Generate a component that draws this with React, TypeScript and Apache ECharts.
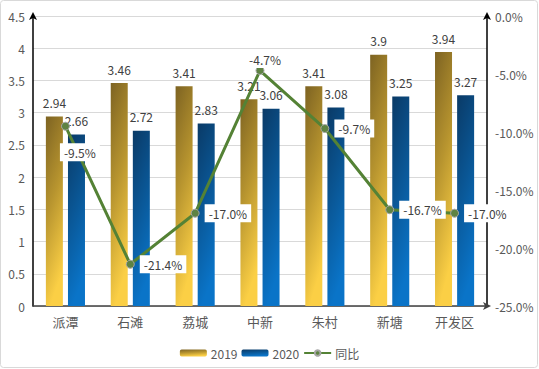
import React, { useEffect, useRef } from "react";
import * as echarts from "echarts";

const categories = ["派潭", "石滩", "荔城", "中新", "朱村", "新塘", "开发区"];
const values2019 = [2.94, 3.46, 3.41, 3.21, 3.41, 3.9, 3.94];
const values2020 = [2.66, 2.72, 2.83, 3.06, 3.08, 3.25, 3.27];
const yoyPercent = [-9.5, -21.4, -17.0, -4.7, -9.7, -16.7, -17.0];
const seriesNames = ["2019", "2020", "同比"];

const FONT = '"Noto Sans CJK SC", "Noto Sans", sans-serif';

export default function App() {
  const ref = useRef<HTMLDivElement>(null);
  useEffect(() => {
    if (!ref.current) return;
    const chart = echarts.init(ref.current, undefined, { renderer: "svg" });
    const gold = new echarts.graphic.LinearGradient(0, 0, 0.25, 1, [
      { offset: 0, color: "#7d6322" },
      { offset: 0.5, color: "#b8952f" },
      { offset: 1, color: "#fbcf45" },
    ]);
    const blue = new echarts.graphic.LinearGradient(0, 0, 0.25, 1, [
      { offset: 0, color: "#0a3a66" },
      { offset: 0.5, color: "#0a5796" },
      { offset: 1, color: "#0a74c8" },
    ]);
    const lineLabel = {
      show: true,
      position: "right",
      distance: 5,
      formatter: (p: any) => (p.value as number).toFixed(1) + "%",
      backgroundColor: "#ffffff",
      padding: [3, 4, 3, 4],
      color: "#404040",
      fontSize: 12,
      fontFamily: FONT,
    };
    const lineData = yoyPercent.map((v, i) => {
      if (i === 0) return { value: v, label: { offset: [-15, 26] } };
      if (i === 3) return { value: v, label: { position: "top", distance: 0, offset: [5, 2] } };
      return { value: v };
    });
    chart.setOption({
      animation: false,
      textStyle: { fontFamily: FONT },
      graphic: [
        {
          type: "rect",
          shape: { x: 0.5, y: 0.5, width: 537, height: 367, r: 3 },
          style: { fill: "none", stroke: "#d9d9d9", lineWidth: 1 },
          silent: true,
        },
      ],
      grid: { left: 33, right: 52, top: 16, bottom: 63 },
      legend: {
        data: seriesNames,
        left: "center",
        top: 342,
        itemWidth: 27,
        itemHeight: 7,
        itemGap: 4,
        textStyle: { color: "#595959", fontSize: 12, fontFamily: FONT, padding: [0, 0, 0, -1] },
      },
      xAxis: {
        type: "category",
        data: categories,
        axisLine: {
          show: true,
          lineStyle: { color: "#404040", width: 1.5 },
          symbol: ["none", "arrow"],
          symbolSize: [6, 8],
          symbolOffset: [0, 4],
        },
        axisTick: { show: false },
        axisLabel: { color: "#595959", fontSize: 13, margin: 9, fontFamily: FONT },
      },
      yAxis: [
        {
          type: "value",
          min: 0,
          max: 4.5,
          interval: 0.5,
          axisLine: {
            show: true,
            lineStyle: { color: "#000000", width: 1.5 },
            symbol: ["none", "arrow"],
            symbolSize: [6, 8],
            symbolOffset: [0, 4],
          },
          axisTick: { show: false },
          axisLabel: { color: "#595959", fontSize: 12, margin: 8, fontFamily: FONT },
          splitLine: { lineStyle: { color: "#d9d9d9", width: 1 } },
        },
        {
          type: "value",
          min: -25,
          max: 0,
          interval: 5,
          position: "right",
          axisLine: {
            show: true,
            lineStyle: { color: "#000000", width: 1.5 },
            symbol: ["none", "arrow"],
            symbolSize: [6, 8],
            symbolOffset: [0, 4],
          },
          axisTick: { show: false },
          axisLabel: {
            color: "#595959",
            fontSize: 12,
            margin: 8,
            fontFamily: FONT,
            formatter: (v: number) => v.toFixed(1) + "%",
          },
          splitLine: { show: false },
        },
      ],
      series: [
        {
          name: seriesNames[0],
          type: "bar",
          data: values2019,
          barWidth: 17,
          barGap: "30%",
          itemStyle: { color: gold },
          label: {
            show: true,
            position: "top",
            distance: 8,
            color: "#404040",
            fontSize: 12,
            fontFamily: FONT,
          },
        },
        {
          name: seriesNames[1],
          type: "bar",
          data: values2020,
          barWidth: 17,
          barGap: "30%",
          itemStyle: { color: blue },
          label: {
            show: true,
            position: "top",
            distance: 8,
            color: "#404040",
            fontSize: 12,
            fontFamily: FONT,
          },
        },
        {
          name: seriesNames[2],
          type: "line",
          yAxisIndex: 1,
          data: lineData,
          z: 5,
          symbol: "circle",
          symbolSize: 8,
          lineStyle: { color: "#548235", width: 3 },
          itemStyle: { color: "#5e8343", borderColor: "#a6a6a6", borderWidth: 1 },
          label: lineLabel,
        },
      ],
    });
    return () => chart.dispose();
  }, []);
  return (
    <div
      ref={ref}
      style={{ position: "absolute", left: 0, top: 0, width: 539, height: 369 }}
    />
  );
}
